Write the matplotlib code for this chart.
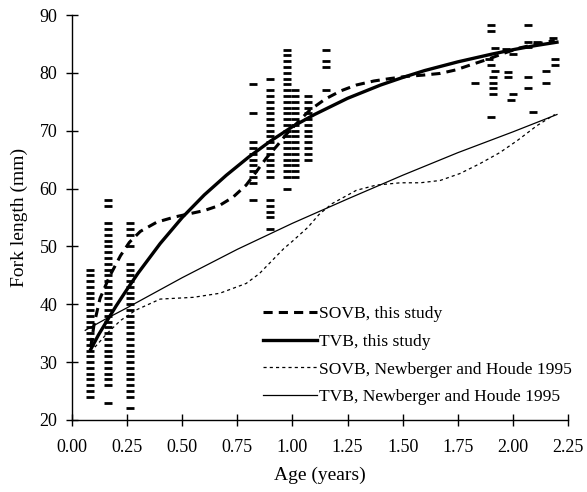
import matplotlib
matplotlib.use("Agg")
import matplotlib.pyplot as plt
import numpy as np

plt.rcParams['font.family'] = ['Liberation Serif', 'DejaVu Serif']

# observed fish (age in years, fork length in mm), read column by column
col1_age = 0.08
col1_fl = [24, 25, 26, 27, 28, 29, 30, 31, 32, 33, 34, 35, 36, 37, 38, 39, 40, 41, 42, 43, 44, 45, 46]
col2_age = 0.165
col2_fl = [58, 57, 54, 53, 52, 51, 50, 49, 48, 47, 46, 45, 44, 43, 42, 41, 40, 39, 38, 37, 36, 35,
           34, 33, 32, 31, 30, 29, 28, 27, 26, 23]
col3_age = 0.265
col3_fl = [54, 53, 52, 50, 47, 46, 45, 44, 43, 42, 41, 40, 39, 38, 37, 36, 35, 34, 33, 32, 31, 30,
           29, 28, 27, 26, 25, 24, 22]
col4_age = 0.82
col4_fl = [78, 73, 68, 67, 66, 65, 64, 63, 62, 61, 58]
col5_age = 0.90
col5_fl = [79, 77, 76, 75, 74, 73, 72, 71, 70, 69, 68, 67, 66, 65, 64, 63, 62, 58, 57, 56, 55, 53]
col6_age = 0.975
col6_fl = [84, 83, 82, 81, 80, 79, 78, 77, 76, 75, 74, 73, 72, 71, 70, 69, 68, 67, 66, 65, 64, 63, 62, 60]
col7_age = 1.01
col7_fl = [77, 76, 75, 74, 73, 72, 71, 70, 69, 68, 67, 66, 65, 64, 63, 62]
col8_age = 1.07
col8_fl = [76, 75, 74, 73, 72, 71, 70, 69, 68, 67, 66, 65]
col9_age = 1.15
col9_fl = [84, 82, 81, 77]

# older fish, scattered
old_age = [1.83, 1.89, 1.90, 1.90, 1.90, 1.90, 1.91, 1.91, 1.91, 1.91, 1.92, 1.92, 1.97,
           1.98, 1.98, 2.00, 2.00, 1.99, 2.07, 2.07, 2.07, 2.07, 2.07, 2.09, 2.11, 2.15,
           2.15, 2.18, 2.19, 2.19]
old_fl = [78.2, 82.4, 88.2, 87.2, 81.3, 72.3, 79.3, 78.3, 77.3, 76.3, 84.3, 80.3, 84.1,
          80.2, 79.3, 83.2, 76.3, 75.3, 88.3, 85.3, 84.4, 79.3, 77.3, 73.3, 85.3, 80.3,
          78.3, 86.0, 82.4, 81.3]

# growth curves
sovb_age = [0.085, 0.10, 0.127, 0.17, 0.22, 0.26, 0.31, 0.385, 0.467, 0.527, 0.60, 0.67, 0.73,
            0.79, 0.83, 0.88, 0.93, 0.975, 1.03, 1.08, 1.15, 1.22, 1.29, 1.37, 1.44, 1.52,
            1.59, 1.67, 1.74, 1.81, 1.89, 1.96, 2.03, 2.11, 2.19]
sovb_fl = [32.6, 36.5, 41.0, 44.8, 48.4, 50.7, 52.6, 54.2, 55.1, 55.6, 56.2, 57.1, 58.5,
           60.6, 62.6, 65.2, 67.4, 69.5, 71.7, 73.6, 75.5, 76.9, 77.9, 78.6, 79.0, 79.4,
           79.6, 79.9, 80.5, 81.4, 82.4, 83.4, 84.3, 85.0, 85.6]

tvb_age = [0.085, 0.12, 0.15, 0.20, 0.25, 0.30, 0.40, 0.50, 0.60, 0.70, 0.80, 0.90, 1.00,
           1.10, 1.25, 1.40, 1.50, 1.60, 1.75, 1.90, 2.00, 2.10, 2.20]
tvb_fl = [32.2, 34.7, 36.6, 39.7, 42.6, 45.4, 50.5, 55.0, 58.9, 62.3, 65.4, 68.2, 70.7,
          72.8, 75.6, 77.9, 79.2, 80.4, 81.9, 83.2, 84.0, 84.7, 85.3]

nh_sovb_age = [0.104, 0.16, 0.22, 0.29, 0.40, 0.55, 0.67, 0.79, 0.85, 0.96, 1.0, 1.07, 1.12,
               1.18, 1.29, 1.38, 1.49, 1.58, 1.67, 1.76, 1.85, 1.94, 2.02, 2.11, 2.19]
nh_sovb_fl = [32.6, 35.0, 37.2, 39.0, 40.9, 41.2, 41.9, 43.6, 45.3, 49.6, 50.9, 53.3, 55.5,
              57.4, 59.7, 60.6, 61.0, 61.0, 61.4, 62.6, 64.3, 66.2, 68.3, 70.9, 72.8]

nh_tvb_age = [0.06, 0.15, 0.25, 0.50, 0.75, 1.00, 1.25, 1.50, 1.75, 2.00, 2.20]
nh_tvb_fl = [35.5, 37.4, 39.4, 44.6, 49.5, 54.0, 58.2, 62.3, 66.2, 69.8, 72.8]

xticks = [0.0, 0.25, 0.5, 0.75, 1.0, 1.25, 1.5, 1.75, 2.0, 2.25]
yticks = [20, 30, 40, 50, 60, 70, 80, 90]

fig = plt.figure(figsize=(5.87, 4.92), dpi=100)
ax = fig.add_axes([72 / 587, 1 - 420 / 492, 496 / 587, 405 / 492])

cols = [(col1_age, col1_fl), (col2_age, col2_fl), (col3_age, col3_fl), (col4_age, col4_fl),
        (col5_age, col5_fl), (col6_age, col6_fl), (col7_age, col7_fl), (col8_age, col8_fl),
        (col9_age, col9_fl)]
for a, fl in cols:
    ax.plot([a] * len(fl), fl, ls='none', marker='_', ms=5.5, mew=2.0, color='black')
ax.plot(old_age, old_fl, ls='none', marker='_', ms=5.5, mew=2.0, color='black')

ax.plot(sovb_age, sovb_fl, color='black', lw=2.2, ls=(0, (3, 2)), label='SOVB, this study')
ax.plot(tvb_age, tvb_fl, color='black', lw=2.4, label='TVB, this study')
ax.plot(nh_sovb_age, nh_sovb_fl, color='black', lw=0.9, ls=(0, (2.5, 2.5)),
        label='SOVB, Newberger and Houde 1995')
ax.plot(nh_tvb_age, nh_tvb_fl, color='black', lw=0.9, label='TVB, Newberger and Houde 1995')

ax.set_xlim(0, 2.25)
ax.set_ylim(20, 90)
ax.set_xticks(xticks)
ax.set_xticklabels(['%.2f' % t for t in xticks])
ax.set_yticks(yticks)
ax.spines['top'].set_visible(False)
ax.spines['right'].set_visible(False)
for s in ['left', 'bottom']:
    ax.spines[s].set_linewidth(1.0)
ax.tick_params(direction='inout', length=9, width=1.0, labelsize=13)
ax.tick_params(axis='x', pad=9)
ax.tick_params(axis='y', pad=6)
ax.set_xlabel('Age (years)', fontsize=14, labelpad=8)
ax.set_ylabel('Fork length (mm)', fontsize=14, labelpad=8)

ax.legend(loc='upper left', bbox_to_anchor=(263 / 587, 1 - 306 / 492),
          bbox_transform=fig.transFigure, frameon=False, fontsize=12.6,
          handlelength=3.1, handletextpad=0.1, labelspacing=0.65, borderpad=0,
          borderaxespad=0)

fig.savefig('out.png', dpi=100)
